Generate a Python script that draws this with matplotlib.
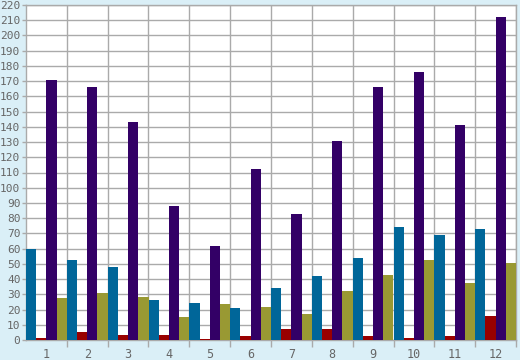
import numpy as np
import matplotlib.pyplot as plt
from matplotlib.ticker import FixedLocator, NullFormatter

groups = [str(i) for i in range(1, 13)]
blue = [60, 52.5, 48, 26, 24.3, 21, 34, 42, 54, 74, 69, 73]
red = [1.5, 5, 3.3, 3.3, 0.6, 2.6, 7, 7, 2.6, 1.3, 2.6, 16]
purple = [171, 166, 143, 88, 62, 112, 83, 131, 166, 176, 141, 212]
olive = [27.5, 31, 28, 15, 23.5, 21.5, 17, 32, 43, 52.5, 37.5, 50.5]

series = [blue, red, purple, olive]
colors = ["#006699", "#990000", "#330066", "#999933"]

bg = "#daeff7"
grid_c = "#aaaaaa"
txt_c = "#666666"

fig = plt.figure(figsize=(5.2, 3.6), dpi=100, facecolor=bg)
ax = fig.add_axes([26 / 520, 20 / 360, 490 / 520, 335 / 360])
ax.set_facecolor("white")

x = np.arange(len(groups))
w = 0.25
for i, (vals, c) in enumerate(zip(series, colors)):
    ax.bar(x - 0.5 + w * i, vals, width=w, align="edge", color=c, zorder=3)

ax.set_xlim(-0.5, len(groups) - 0.5)
ax.set_ylim(0, 220)

# y axis
ax.set_yticks(np.arange(0, 221, 10))
ax.tick_params(axis="y", length=3, width=1, color=grid_c, labelcolor=txt_c,
               labelsize=8, pad=1)
# x axis: labels at centres, tick marks at group boundaries
ax.set_xticks(x)
ax.set_xticklabels(groups)
ax.tick_params(axis="x", which="major", length=0, labelcolor=txt_c,
               labelsize=8.5, pad=6)
ax.xaxis.set_minor_locator(FixedLocator(np.arange(0.5, len(groups) - 0.5 + 1e-9, 1)))
ax.xaxis.set_minor_formatter(NullFormatter())
ax.tick_params(axis="x", which="minor", length=5, width=1, color=grid_c)

for lab in ax.get_xticklabels() + ax.get_yticklabels():
    lab.set_family("DejaVu Sans Mono")

ax.grid(True, axis="y", color=grid_c, linewidth=1, zorder=0)
ax.grid(True, axis="x", which="minor", color=grid_c, linewidth=1, zorder=0)
for s in ax.spines.values():
    s.set_color(grid_c)
    s.set_linewidth(1)

plt.savefig("out.png", dpi=100, facecolor=bg)
